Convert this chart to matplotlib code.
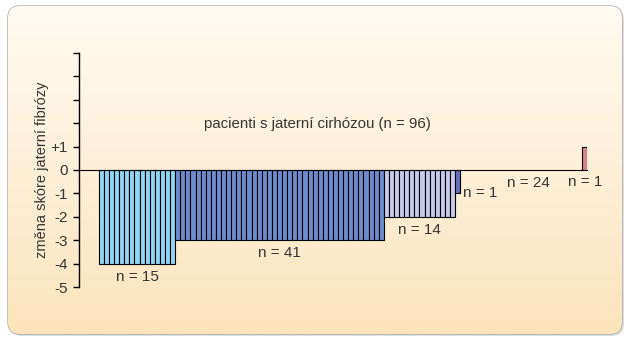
import numpy as np
import matplotlib.pyplot as plt
from matplotlib.patches import FancyBboxPatch

# groups of patients: size, change of fibrosis score, colour
counts = [15, 41, 14, 1, 24, 1]
changes = [-4, -3, -2, -1, 0, 1]
colors = ["#92d6f6", "#6d8bcf", "#c8caec", "#6a6fc0", "#d8d8d8", "#d9838b"]
labels = ["n = 15", "n = 41", "n = 14", "n = 1", "n = 24", "n = 1"]

yticks = [-5, -4, -3, -2, -1, 0, 1, 2, 3, 4, 5]
yticklabels = ["-5", "-4", "-3", "-2", "-1", "0", "+1", "", "", "", ""]

title = "pacienti s jaterní cirhózou (n = 96)"
ylabel = "změna skóre jaterní fibrózy"

plt.rcParams['font.family'] = ['Liberation Sans', 'DejaVu Sans']
txtcol = '#353535'

fig = plt.figure(figsize=(6.33, 3.43), dpi=100)

# background box with vertical gradient
bg = fig.add_axes([0, 0, 1, 1])
bg.axis('off')
shadow = FancyBboxPatch((10, 8), 614, 328, boxstyle="round,pad=0,rounding_size=12",
                        fc="#c8c8c8", ec="none", alpha=0.6)
bg.add_patch(shadow)
box = FancyBboxPatch((8, 6), 614, 328, boxstyle="round,pad=0,rounding_size=12",
                     fc="none", ec="#a8a8a8", lw=1.0)
bg.add_patch(box)
grad = np.linspace(0, 1, 256).reshape(-1, 1)
top = np.array([255, 251, 242]) / 255
bot = np.array([252, 228, 188]) / 255
img = top + (bot - top) * grad[..., None]
im = bg.imshow(img, extent=[8, 622, 334, 6], aspect='auto', zorder=1)
im.set_clip_path(box)
bg.set_xlim(0, 633)
bg.set_ylim(343, 0)

ax = fig.add_axes([0.1248, 0.1624, 0.8032, 0.684])
ax.patch.set_alpha(0)

vals = np.repeat(changes, counts)
cols = np.repeat(colors, counts)
x = np.arange(len(vals))
nz = vals != 0
ax.bar(x[nz], vals[nz], width=1, align='edge', color=cols[nz],
       edgecolor='black', linewidth=0.8, zorder=3)

ax.set_xlim(-3.9, len(vals))
ax.set_ylim(-5, 5)
ax.set_yticks(yticks)
ax.set_yticklabels(yticklabels, fontsize=11, color=txtcol)
ax.tick_params(axis='y', direction='out', length=4, width=1, pad=4)
ax.set_xticks([])
for s in ['top', 'right']:
    ax.spines[s].set_visible(False)
ax.spines['bottom'].set_position(('data', 0))
ax.spines['bottom'].set_zorder(4)
ax.spines['left'].set_linewidth(1)
ax.set_ylabel(ylabel, fontsize=10.5, color=txtcol, labelpad=1)

# group labels
start = np.cumsum([0] + counts[:-1])
for s, n, v, lab in zip(start, counts, changes, labels):
    cx = s + n / 2
    if n == 1 and v < 0:
        ax.text(s + 1.6, v, lab, ha='left', va='center', fontsize=11, color=txtcol)
    elif v > 0:
        ax.text(cx, -0.5, lab, ha='center', va='center', fontsize=11, color=txtcol)
    else:
        ax.text(cx + (1.5 if v == 0 else 0), v - 0.55, lab, ha='center', va='center',
                fontsize=11, color=txtcol)

ax.text(43, 1.95, title, ha='center', va='center', fontsize=10.8, color=txtcol)

fig.savefig("out.png", dpi=100)
